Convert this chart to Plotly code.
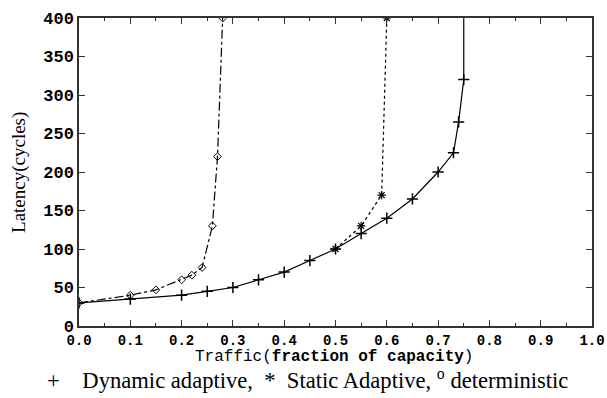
import plotly.graph_objects as go

# Data
dyn_x = [0.0, 0.1, 0.2, 0.25, 0.3, 0.35, 0.4, 0.45, 0.5, 0.55, 0.6, 0.65, 0.7, 0.73, 0.74, 0.75]
dyn_y = [30, 35, 40, 45, 50, 60, 70, 85, 100, 120, 140, 165, 200, 225, 265, 320]
dyn_tail_x = [0.75, 0.75]
dyn_tail_y = [320, 410]

sta_x = [0.5, 0.55, 0.59, 0.6]
sta_y = [100, 130, 170, 400]

det_x = [0.0, 0.1, 0.15, 0.2, 0.22, 0.24, 0.26, 0.27, 0.28]
det_y = [30, 40, 47, 60, 66, 76, 130, 220, 400]

x_ticks = [0.0, 0.1, 0.2, 0.3, 0.4, 0.5, 0.6, 0.7, 0.8, 0.9, 1.0]
y_ticks = [0, 50, 100, 150, 200, 250, 300, 350, 400]

fig = go.Figure()

fig.add_trace(go.Scatter(x=sta_x, y=sta_y, mode="lines+markers",
                         line=dict(color="black", width=1.2, dash="dot"),
                         marker=dict(symbol="asterisk-open", size=7, color="black",
                                     line=dict(color="black", width=1.2)),
                         showlegend=False))
fig.add_trace(go.Scatter(x=det_x, y=det_y, mode="lines+markers",
                         line=dict(color="black", width=1.2, dash="dashdot"),
                         marker=dict(symbol="diamond-open", size=6, color="black",
                                     line=dict(color="black", width=1)),
                         showlegend=False))
fig.add_trace(go.Scatter(x=dyn_x, y=dyn_y, mode="lines+markers",
                         line=dict(color="black", width=1.2),
                         marker=dict(symbol="cross-thin-open", size=8, color="black",
                                     line=dict(color="black", width=1.5)),
                         showlegend=False))
fig.add_trace(go.Scatter(x=dyn_tail_x, y=dyn_tail_y, mode="lines",
                         line=dict(color="black", width=1.2),
                         showlegend=False, cliponaxis=False))

mono = "Liberation Mono, Courier New, monospace"
serif = "Liberation Serif, Times New Roman, serif"

fig.update_xaxes(range=[0, 1.0], tickvals=x_ticks, ticktext=[f"{v:.1f}" for v in x_ticks],
                 ticks="inside", ticklen=6, tickwidth=1.2, tickcolor="#333",
                 minor=dict(dtick=0.05, tick0=0, ticks="inside", ticklen=3, tickcolor="#333"),
                 showline=True, linecolor="#333", linewidth=1.5, mirror="ticks",
                 showgrid=False, zeroline=False, automargin=False,
                 tickfont=dict(family=mono, size=14, color="black", weight="bold"))
fig.update_yaxes(range=[0, 400], tickvals=y_ticks, ticktext=[str(v) for v in y_ticks],
                 ticks="inside", ticklen=6, tickwidth=1.2, tickcolor="#333",
                 showline=True, linecolor="#333", linewidth=1.5, mirror="ticks",
                 showgrid=False, zeroline=False, automargin=False,
                 tickfont=dict(family=mono, size=17, color="black", weight="bold"))

fig.update_layout(
    width=607, height=398,
    margin=dict(l=79, r=15, t=18, b=72, autoexpand=False),
    plot_bgcolor="white", paper_bgcolor="white",
    annotations=[
        dict(text="Latency(cycles)", xref="paper", yref="paper",
             x=-0.117, y=0.5, xanchor="center", yanchor="middle", textangle=-90,
             showarrow=False,
             font=dict(family=serif, size=19, color="black")),
        dict(text="Traffic(<b>fraction of capacity</b>)", xref="paper", yref="paper",
             x=0.497, y=-0.10, xanchor="center", yanchor="middle", showarrow=False,
             font=dict(family=mono, size=16, color="black")),
        dict(text="+\u00a0\u00a0\u00a0\u00a0Dynamic adaptive,\u00a0\u00a0*\u00a0\u00a0Static Adaptive, <sup>o</sup>\u00a0deterministic",
             xref="paper", yref="paper",
             x=0.445, y=-0.172, xanchor="center", yanchor="middle", showarrow=False,
             font=dict(family=serif, size=22.6, color="black")),
    ],
)

fig.write_html("out.html")
